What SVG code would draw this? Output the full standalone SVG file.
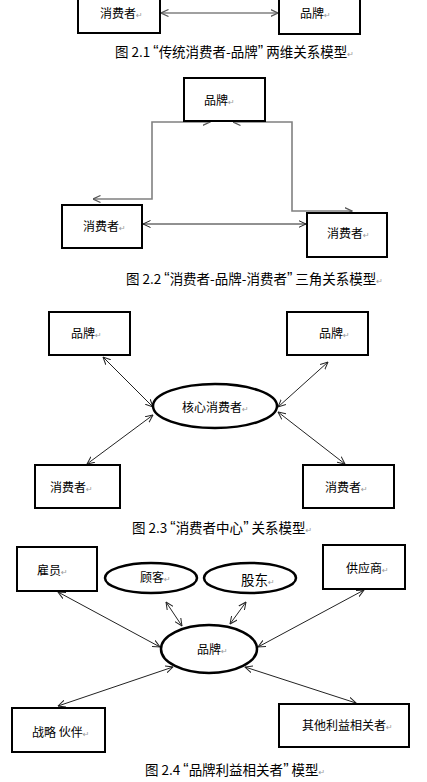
<svg xmlns="http://www.w3.org/2000/svg" width="427" height="782" viewBox="0 0 427 782">
<style>
.box{fill:#fff;stroke:#000;stroke-width:2}
.ell{fill:#fff;stroke:#000;stroke-width:2.5}
.lbl{font-family:"Noto Sans CJK SC","Noto Sans",sans-serif;font-size:12px;fill:#000}
.cap{font-family:"Noto Sans CJK SC","Noto Sans",sans-serif;font-size:13.5px;fill:#000}
.q{font-family:"Liberation Sans",Arial,sans-serif;font-size:16px}
.pm{font-family:"DejaVu Sans",sans-serif;font-size:8px;fill:#999}
.cb{fill:none;stroke:#222;stroke-width:1}
.cg{fill:none;stroke:#808080;stroke-width:1.6}
</style>
<defs>
<marker id="ab" viewBox="0 0 8 8" refX="7.5" refY="4" markerWidth="8" markerHeight="8" markerUnits="userSpaceOnUse" orient="auto-start-reverse"><path d="M0,0.5 L7.5,4 L0,7.5" fill="none" stroke="#222" stroke-width="1"/></marker>
<marker id="ag" viewBox="0 0 8 8" refX="7.5" refY="4" markerWidth="8" markerHeight="8" markerUnits="userSpaceOnUse" orient="auto-start-reverse"><path d="M0,0.5 L7.5,4 L0,7.5" fill="none" stroke="#555" stroke-width="1.2"/></marker>
</defs>
<rect width="427" height="782" fill="#fff"/>

<g id="connectors">
<path class="cg" d="M161,13 L278,13" marker-start="url(#ag)" marker-end="url(#ag)"/>
<path class="cg" d="M93,199 L152,199 L152,122 L210,122" marker-start="url(#ag)" marker-end="url(#ag)"/>
<path class="cg" d="M233,122 L292,122 L292,211 L352,211" marker-start="url(#ag)" marker-end="url(#ag)"/>
<path class="cb" d="M143,224 L306,224" marker-start="url(#ab)" marker-end="url(#ab)"/>
<path class="cb" d="M103,357 L153,407" marker-start="url(#ab)" marker-end="url(#ab)"/>
<path class="cb" d="M87,464 L153,415" marker-start="url(#ab)" marker-end="url(#ab)"/>
<path class="cb" d="M328,362 L278,407" marker-start="url(#ab)" marker-end="url(#ab)"/>
<path class="cb" d="M278,412 L345,464" marker-start="url(#ab)" marker-end="url(#ab)"/>
<path class="cb" d="M58,592 L160,647" marker-start="url(#ab)" marker-end="url(#ab)"/>
<path class="cb" d="M166,602 L182,626" marker-start="url(#ab)" marker-end="url(#ab)"/>
<path class="cb" d="M246,602 L230,624" marker-start="url(#ab)" marker-end="url(#ab)"/>
<path class="cb" d="M364,590 L258,647" marker-start="url(#ab)" marker-end="url(#ab)"/>
<path class="cb" d="M58,706 L173,667" marker-start="url(#ab)" marker-end="url(#ab)"/>
<path class="cb" d="M245,667 L356,703" marker-start="url(#ab)" marker-end="url(#ab)"/>
</g>

<!-- Figure 2.1 -->
<g id="f1-consumer"><rect class="box" x="78" y="-5" width="82" height="38"/><text class="lbl" x="100" y="18">消费者<tspan class="pm">↵</tspan></text></g>
<g id="f1-brand"><rect class="box" x="279" y="-5" width="81" height="39"/><text class="lbl" x="300" y="18">品牌<tspan class="pm">↵</tspan></text></g>
<text class="cap" x="115" y="57">图 2.1 <tspan class="q">“</tspan>传统消费者-品牌<tspan class="q">”</tspan> 两维关系模型<tspan class="pm">↵</tspan></text>

<!-- Figure 2.2 -->
<g id="f2-brand"><rect class="box" x="184" y="78" width="81" height="43"/><text class="lbl" x="204" y="105">品牌<tspan class="pm">↵</tspan></text></g>
<g id="f2-consumer-left"><rect class="box" x="62" y="205" width="80" height="43"/><text class="lbl" x="83" y="231">消费者<tspan class="pm">↵</tspan></text></g>
<g id="f2-consumer-right"><rect class="box" x="307" y="213" width="80" height="44"/><text class="lbl" x="327" y="238">消费者<tspan class="pm">↵</tspan></text></g>
<text class="cap" x="126" y="284">图 2.2 <tspan class="q">“</tspan>消费者-品牌-消费者<tspan class="q">”</tspan> 三角关系模型<tspan class="pm">↵</tspan></text>

<!-- Figure 2.3 -->
<g id="f3-brand-left"><rect class="box" x="49" y="312" width="81" height="43"/><text class="lbl" x="71" y="338">品牌<tspan class="pm">↵</tspan></text></g>
<g id="f3-brand-right"><rect class="box" x="287" y="312" width="81" height="43"/><text class="lbl" x="319" y="338">品牌<tspan class="pm">↵</tspan></text></g>
<g id="f3-core"><ellipse class="ell" cx="215" cy="406" rx="62" ry="22"/><text class="lbl" x="182" y="412">核心消费者<tspan class="pm">↵</tspan></text></g>
<g id="f3-consumer-left"><rect class="box" x="35" y="465" width="85" height="43"/><text class="lbl" x="50" y="492">消费者<tspan class="pm">↵</tspan></text></g>
<g id="f3-consumer-right"><rect class="box" x="303" y="465" width="91" height="43"/><text class="lbl" x="325" y="492">消费者<tspan class="pm">↵</tspan></text></g>
<text class="cap" x="132" y="533">图 2.3 <tspan class="q">“</tspan>消费者中心<tspan class="q">”</tspan> 关系模型<tspan class="pm">↵</tspan></text>

<!-- Figure 2.4 -->
<g id="f4-employee"><rect class="box" x="17" y="547" width="80" height="44"/><text class="lbl" x="37" y="575">雇员<tspan class="pm">↵</tspan></text></g>
<g id="f4-customer"><ellipse class="ell" cx="151" cy="578" rx="46" ry="15"/><text class="lbl" x="140" y="582">顾客<tspan class="pm">↵</tspan></text></g>
<g id="f4-shareholder"><ellipse class="ell" cx="250" cy="578" rx="46" ry="15"/><text class="lbl" x="241" y="585" style="font-size:13.5px">股东<tspan class="pm">↵</tspan></text></g>
<g id="f4-supplier"><rect class="box" x="323" y="545" width="82" height="44"/><text class="lbl" x="346" y="573">供应商<tspan class="pm">↵</tspan></text></g>
<g id="f4-brand"><ellipse class="ell" cx="209" cy="649" rx="48" ry="24"/><text class="lbl" x="197" y="654">品牌<tspan class="pm">↵</tspan></text></g>
<g id="f4-partner"><rect class="box" x="12" y="708" width="93" height="44"/><text class="lbl" x="32" y="737">战略 伙伴<tspan class="pm">↵</tspan></text></g>
<g id="f4-others"><rect class="box" x="279" y="704" width="130" height="43"/><text class="lbl" x="302" y="730">其他利益相关者<tspan class="pm">↵</tspan></text></g>
<text class="cap" x="145" y="775">图 2.4 <tspan class="q">“</tspan>品牌利益相关者<tspan class="q">”</tspan> 模型<tspan class="pm">↵</tspan></text>
</svg>
